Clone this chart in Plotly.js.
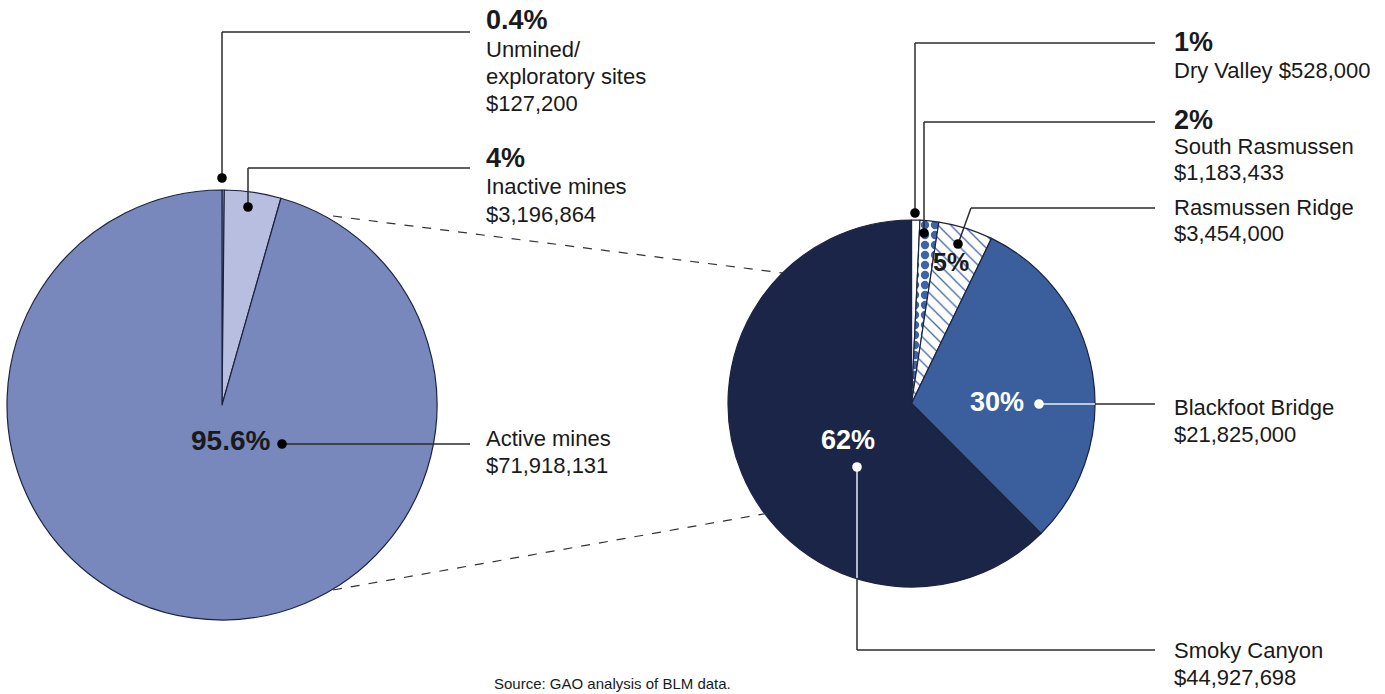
<!DOCTYPE html>
<html>
<head>
<meta charset="utf-8">
<script src="https://cdn.plot.ly/plotly-3.0.1.min.js"></script>
<style>html,body{margin:0;padding:0;background:#fff;}#chart{width:1385px;height:694px;}</style>
</head>
<body>
<div id="chart"></div>
<script>
// ---- data ----
const leftLabels = ['Unmined/exploratory sites', 'Inactive mines', 'Active mines'];
const leftValues = [127200, 3196864, 71918131];
const leftPct = ['0.4%', '4%', '95.6%'];
const rightLabels = ['Dry Valley', 'South Rasmussen', 'Rasmussen Ridge', 'Blackfoot Bridge', 'Smoky Canyon'];
const rightValues = [528000, 1183433, 3454000, 21825000, 44927698];
const rightPct = ['1%', '2%', '5%', '30%', '62%'];
const sourceText = 'Source: GAO analysis of BLM data.';

// ---- helpers ----
const W = 1385, H = 694;
const X = p => p / W;
const Y = p => 1 - p / H;
const money = v => '$' + v.toLocaleString('en-US');
const FONT = 'Liberation Sans, Arial, sans-serif';
const TXT = '#1a1a1a';
const LINE = '#2b2b2b';

const leftColors = ['#c4c9e6', '#b8bedf', '#7888bc'];
const rightColors = ['#ffffff', '#ffffff', '#ffffff', '#3b5f9d', '#1b2548'];

const traces = [
  {
    type: 'pie', labels: leftLabels, values: leftValues, sort: false,
    direction: 'clockwise', rotation: 0, textinfo: 'none', hoverinfo: 'none',
    showlegend: false,
    marker: {colors: leftColors, line: {color: '#1c2340', width: 1.2}},
    domain: {x: [X(7), X(437)], y: [Y(620), Y(190)]}
  },
  {
    type: 'pie', labels: rightLabels, values: rightValues, sort: false,
    direction: 'clockwise', rotation: 0, textinfo: 'none', hoverinfo: 'none',
    showlegend: false,
    marker: {
      colors: rightColors, line: {color: '#1c2340', width: 1.2},
      pattern: {shape: ['', '.', '\\', '', ''], fgcolor: '#3e63a6', bgcolor: '#ffffff',
                size: [8, 10, 9, 8, 8], solidity: [0.3, 0.55, 0.14, 0.3, 0.3], fillmode: 'replace'}
    },
    domain: {x: [X(728), X(1095)], y: [Y(587), Y(220)]}
  }
];

const shapes = [];
const ann = [];
function line(x0, y0, x1, y1, color, dash, w) {
  shapes.push({type: 'line', xref: 'paper', yref: 'paper', x0: X(x0), y0: Y(y0), x1: X(x1), y1: Y(y1),
    line: {color: color || LINE, width: w || 1.5, dash: dash || 'solid'}});
}
function dot(x, y, color) {
  const r = 4.8;
  shapes.push({type: 'circle', xref: 'paper', yref: 'paper', x0: X(x - r), x1: X(x + r), y0: Y(y + r), y1: Y(y - r),
    fillcolor: color || '#000', line: {width: 0}});
}
function text(t, x, y, opts) {
  opts = opts || {};
  ann.push({xref: 'paper', yref: 'paper', x: X(x), y: Y(y), text: t, showarrow: false,
    xanchor: opts.xanchor || 'left', yanchor: 'middle',
    font: {family: FONT, size: opts.size || 22, color: opts.color || TXT, weight: opts.bold ? 'bold' : 'normal'}});
}

// dashed connectors
line(333, 216, 783, 273, '#333', 'dash', 1.2);
line(333, 590, 769, 513, '#333', 'dash', 1.2);

// left pie leaders
line(222, 178, 222, 32); line(222, 32, 470, 32); dot(222, 178);
line(248, 207, 248, 168); line(248, 168, 470, 168); dot(248, 207);
line(282, 444, 470, 444); dot(282, 444);

// left labels
text(leftPct[0], 484, 20, {bold: true, size: 27});
text('Unmined/', 484, 49);
text('exploratory sites', 484, 76);
text(money(leftValues[0]), 484, 103);
text(leftPct[1], 484, 158, {bold: true, size: 27});
text(leftLabels[1], 484, 187);
text(money(leftValues[1]), 484, 214);
text(leftPct[2], 230, 440, {bold: true, size: 28, xanchor: 'center'});
text(leftLabels[2], 484, 438);
text(money(leftValues[2]), 484, 465);

// right pie leaders
line(915, 213, 915, 43); line(915, 43, 1155, 43); dot(915, 213);
line(924, 233, 924, 122); line(924, 122, 1155, 122); dot(924, 233);
line(958, 244, 971, 208); line(971, 208, 1155, 208); dot(958, 244);
line(1039, 404, 1095, 404, '#e8ecf5'); line(1095, 404, 1155, 404); dot(1039, 404, '#ffffff');
line(857, 467, 857, 578, '#e8ecf5'); line(857, 578, 857, 650); line(857, 650, 1155, 650); dot(857, 467, '#ffffff');

// right labels
text(rightPct[0], 1172, 42, {bold: true, size: 27});
text(rightLabels[0] + ' ' + money(rightValues[0]), 1172, 70);
text(rightPct[1], 1172, 120, {bold: true, size: 27});
text(rightLabels[1], 1172, 146);
text(money(rightValues[1]), 1172, 172);
text(rightLabels[2], 1172, 208);
text(money(rightValues[2]), 1172, 234);
text(rightPct[2], 951, 262, {bold: true, size: 25, xanchor: 'center'});
text(rightLabels[3], 1172, 407);
text(money(rightValues[3]), 1172, 434);
text(rightPct[3], 997, 402, {bold: true, size: 27, xanchor: 'center', color: '#ffffff'});
text(rightLabels[4], 1172, 650);
text(money(rightValues[4]), 1172, 677);
text(rightPct[4], 848, 440, {bold: true, size: 27, xanchor: 'center', color: '#ffffff'});

// source
text(sourceText, 612, 683, {size: 15, xanchor: 'center'});

const layout = {
  width: W, height: H, margin: {l: 0, r: 0, t: 0, b: 0},
  paper_bgcolor: '#ffffff', plot_bgcolor: '#ffffff',
  showlegend: false, shapes: shapes, annotations: ann,
  font: {family: FONT}
};
Plotly.newPlot('chart', traces, layout, {displayModeBar: false, staticPlot: true});
</script>
</body>
</html>
